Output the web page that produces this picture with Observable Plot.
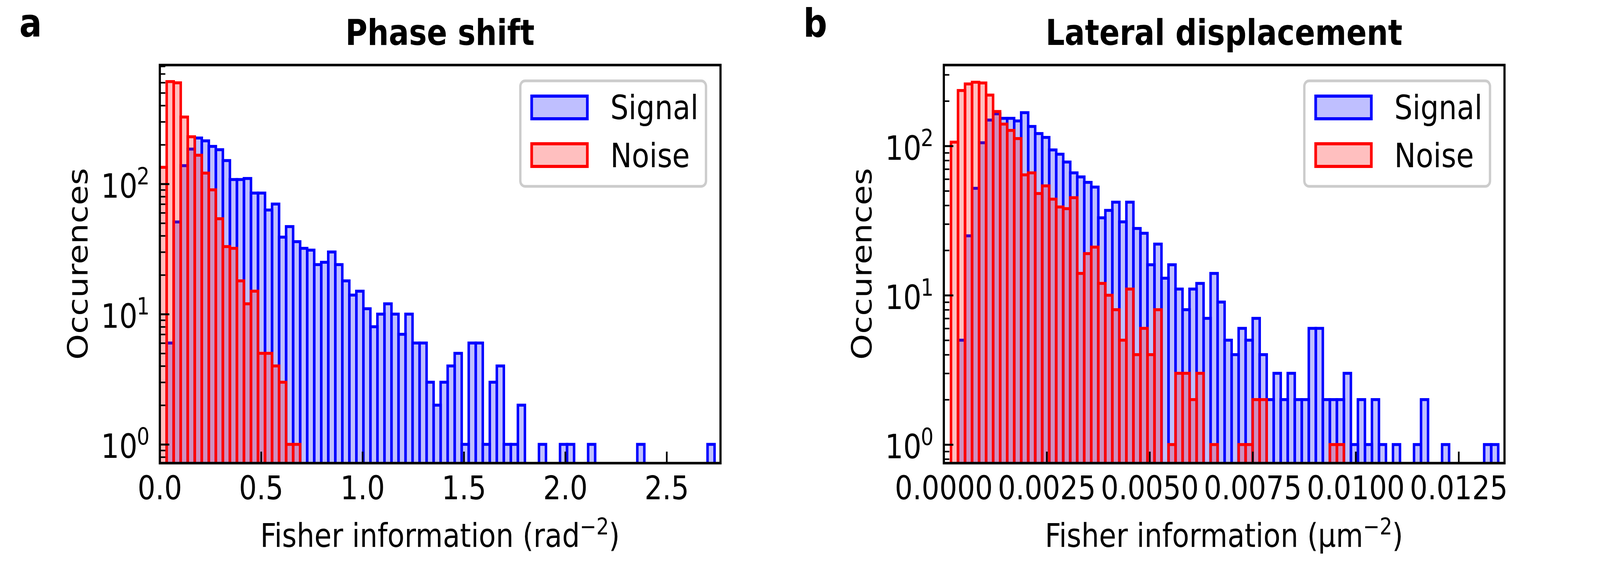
<!DOCTYPE html>
<html>
<head>
<meta charset="utf-8">
<script src="https://cdn.jsdelivr.net/npm/d3@7"></script>
<script src="https://cdn.jsdelivr.net/npm/@observablehq/plot@0.6"></script>
<style>
html, body { margin: 0; padding: 0; background: #ffffff; overflow: hidden; width: 100vw; height: 100vh; }
#wrap { position: absolute; left: 0; top: 0; width: 4800px; height: 1500px; display: flex;
        background: #ffffff; transform-origin: 0 0; }
#panelA { flex: 0 0 auto; width: 2352px; height: 1500px; }
#panelB { flex: 0 0 auto; width: 2448px; height: 1500px; }
#panelA svg, #panelB svg { display: block; max-width: none; }
</style>
</head>
<body>
<div id="wrap"><div id="panelA"></div><div id="panelB"></div></div>
<script>
// ---------------- data ----------------
const seriesNames = ["Signal", "Noise"];

// Panel a: phase shift (shared bin grid)
const phaseBinStart = 0;
const phaseBinWidth = 0.03464;
const phaseSignal = [0,6,51,138,185,225,214,194,183,151,
  108,108,110,85,85,63,70,39,47,36,
  32,31,24,25,30,24,18,14,15,11,
  8,10,12,10,7,10,6,6,3,2,
  3,4,5,1,6,6,1,3,4,1,
  1,2,0,0,1,0,0,1,1,0,
  0,1,0,0,0,0,0,0,1,0,
  0,0,0,0,0,0,0,0,1];
const phaseNoise = [134,610,597,326,230,166,121,90,54,33,
  32,18,12,15,5,5,4,3,1,1];
const phaseXTicks = [0, 0.5, 1.0, 1.5, 2.0, 2.5];
const phaseXDomain = [0, 2.765];
const phaseYDomain = [0.72, 820];

// Panel b: lateral displacement (shared bin grid)
const lateralBinStart = 0.000178;
const lateralBinWidth = 0.0001703;
const lateralSignal = [0,5,25,52,105,149,164,153,153,147,
  167,135,121,114,94,88,78,66,62,57,
  53,33,37,42,31,42,28,26,16,22,
  13,16,11,8,11,12,7,14,9,5,
  4,6,5,7,4,2,3,2,3,2,
  2,6,6,2,2,2,3,1,2,1,
  2,1,0,1,0,0,1,2,0,0,
  1,0,0,0,0,0,1,1];
const lateralNoise = [106,235,260,267,264,219,170,140,127,112,
  64,66,48,54,44,39,38,45,14,19,
  21,12,10,8,5,11,4,6,4,8,
  0,1,3,3,2,3,0,1,0,0,
  0,1,1,2,2,0,0,0,0,0,
  0,0,0,0,1,1];
const lateralXTicks = [0, 0.0025, 0.005, 0.0075, 0.01, 0.0125];
const lateralXDomain = [0, 0.01361];
const lateralYDomain = [0.753, 349];

const yMajorTicks = [1, 10, 100];

// ---------------- helpers ----------------
function toBins(counts, start, width) {
  return counts.map((c, i) => ({x1: start + i * width, x2: start + (i + 1) * width, count: c}))
               .filter(d => d.count > 0);
}
function minorTicks(domain) {
  const t = [];
  for (let e = -1; e <= 3; e++) for (let m = 2; m <= 9; m++) {
    const v = m * Math.pow(10, e);
    if (v >= domain[0] && v <= domain[1]) t.push(v);
  }
  return t;
}

const FONT = "'DejaVu Sans', 'Liberation Sans', sans-serif";
const FS = 84;
const H = 1500, mL = 479, mT = 166, plotW = 1682, plotH = 1019, mB = H - mT - plotH;

function panel(cfg) {
  const W = cfg.width;
  const mR = W - mL - plotW;
  const sig = toBins(cfg.signal, cfg.binStart, cfg.binWidth);
  const noi = toBins(cfg.noise, cfg.binStart, cfg.binWidth);
  const chart = Plot.plot({
    width: W, height: H,
    marginLeft: mL, marginRight: mR, marginTop: mT, marginBottom: mB,
    x: {domain: cfg.xDomain},
    y: {type: "log", domain: cfg.yDomain},
    style: {fontFamily: FONT, fontSize: FS + "px", color: "black", background: "transparent", overflow: "visible"},
    marks: [
      Plot.rect(sig, {x1: "x1", x2: "x2", y1: () => 0.1, y2: "count", inset: 0,
        fill: "blue", fillOpacity: 0.25, stroke: "blue", strokeWidth: 7.5, clip: true}),
      Plot.rect(noi, {x1: "x1", x2: "x2", y1: () => 0.1, y2: "count", inset: 0,
        fill: "red", fillOpacity: 0.25, stroke: "red", strokeWidth: 7.5, clip: true}),
      Plot.tickY(minorTicks(cfg.yDomain), {y: d => d, insetRight: plotW - 17, stroke: "black", strokeWidth: 4}),
      Plot.tickY(yMajorTicks, {y: d => d, insetRight: plotW - 29, stroke: "black", strokeWidth: 5}),
      Plot.tickX(cfg.xTicks, {x: d => d, insetTop: plotH - 29, stroke: "black", strokeWidth: 5}),
      Plot.axisX({ticks: cfg.xTicks, tickFormat: cfg.xFormat, tickSize: 0, tickPadding: 33,
        fontSize: FS, label: null}),
      Plot.axisY({ticks: yMajorTicks, tickFormat: () => "10", tickSize: 0, tickPadding: 67,
        fontSize: 86, dy: 7, label: null}),
      Plot.axisY({ticks: yMajorTicks, tickFormat: d => String(Math.round(Math.log10(d))), tickSize: 0,
        tickPadding: 31, fontSize: 60, dy: -18.7, label: null}),
      Plot.frame({stroke: "black", strokeWidth: 6.5})
    ]
  });

  const svg = d3.select(chart);
  // panel letter
  svg.append("text").attr("x", 58).attr("y", 94).attr("text-anchor", "start")
    .attr("font-family", FONT).attr("font-weight", "bold").attr("font-size", 100)
    .attr("fill", "black").text(cfg.letter);
  // title
  svg.append("text").attr("x", mL + plotW / 2).attr("y", 115).attr("text-anchor", "middle")
    .attr("font-family", FONT).attr("font-weight", "bold").attr("font-size", 90)
    .attr("fill", "black").text(cfg.title);
  // y label
  svg.append("text").attr("transform", `translate(263,${mT + plotH / 2}) rotate(-90)`)
    .attr("text-anchor", "middle").attr("font-family", FONT).attr("font-size", FS)
    .attr("fill", "black").text("Occurences");
  // x label
  const xl = svg.append("text").attr("x", mL + plotW / 2).attr("y", 1400).attr("text-anchor", "middle")
    .attr("font-family", FONT).attr("font-size", FS).attr("fill", "black");
  xl.append("tspan").text("Fisher information (" + cfg.unit);
  xl.append("tspan").attr("font-size", 59).attr("dy", -32).text("\u22122");
  xl.append("tspan").attr("dy", 32).text(")");

  // legend
  const R = mL + plotW;
  const g = svg.append("g");
  g.append("rect").attr("x", R - 600).attr("y", 207).attr("width", 557).attr("height", 270)
    .attr("rx", 14).attr("fill", "white").attr("fill-opacity", 0.8)
    .attr("stroke", "#cccccc").attr("stroke-width", 7);
  const colors = ["blue", "red"];
  seriesNames.forEach((name, i) => {
    g.append("rect").attr("x", R - 566).attr("y", 246 + i * 122).attr("width", 167).attr("height", 58)
      .attr("fill", colors[i]).attr("fill-opacity", 0.25)
      .attr("stroke", colors[i]).attr("stroke-width", 8);
    g.append("text").attr("x", R - 330).attr("y", 305 + i * 123).attr("text-anchor", "start")
      .attr("font-family", FONT).attr("font-size", 86).attr("fill", "black").text(name);
  });
  return chart;
}

document.getElementById("panelA").appendChild(panel({
  width: 2352, letter: "a", title: "Phase shift", unit: "rad",
  signal: phaseSignal, noise: phaseNoise, binStart: phaseBinStart, binWidth: phaseBinWidth,
  xDomain: phaseXDomain, yDomain: phaseYDomain, xTicks: phaseXTicks, xFormat: d => d.toFixed(1)
}));
document.getElementById("panelB").appendChild(panel({
  width: 2448, letter: "b", title: "Lateral displacement", unit: "\u00b5m",
  signal: lateralSignal, noise: lateralNoise, binStart: lateralBinStart, binWidth: lateralBinWidth,
  xDomain: lateralXDomain, yDomain: lateralYDomain, xTicks: lateralXTicks, xFormat: d => d.toFixed(4)
}));

// fit the 4800x1500 figure to the browser viewport
function fit() {
  const sx = window.innerWidth / 4800, sy = window.innerHeight / 1500;
  document.getElementById("wrap").style.transform = `scale(${sx}, ${sy})`;
}
fit();
window.addEventListener("resize", fit);
</script>
</body>
</html>
